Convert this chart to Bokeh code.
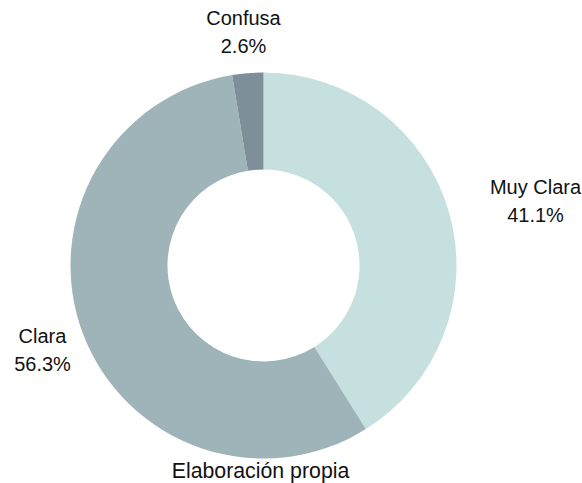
import math
from bokeh.plotting import figure
from bokeh.models import ColumnDataSource, Range1d
from bokeh.core.properties import value
from bokeh.embed import file_html
from bokeh.resources import INLINE

categories = ["Muy Clara", "Clara", "Confusa"]
shares = [41.1, 56.3, 2.6]
colors = ["#c6e0df", "#9fb4b9", "#7e8f9a"]
pct_labels = ["41.1%", "56.3%", "2.6%"]
caption = "Elaboración propia"

W, H = 582, 483
p = figure(width=W, height=H, output_backend="svg", toolbar_location=None,
           x_range=Range1d(0, W), y_range=Range1d(0, H), min_border=0)
p.axis.visible = False
p.grid.visible = False
p.outline_line_color = None
p.background_fill_color = "white"
p.border_fill_color = "white"

cx, cy = 263, H - 265
total = sum(shares)
starts, ends = [], []
acc = 0.0
for s in shares:
    a0 = math.pi / 2 - 2 * math.pi * acc / total
    acc += s
    a1 = math.pi / 2 - 2 * math.pi * acc / total
    starts.append(a1)
    ends.append(a0)

src = ColumnDataSource(dict(start=starts, end=ends, color=colors, cat=categories))
p.annular_wedge(x=cx, y=cy, inner_radius=96, outer_radius=193,
                start_angle="start", end_angle="end", fill_color="color",
                line_color=None, source=src)

lx = [535, 42, 243]
ly_top = [H - 186, H - 335, H - 17]
gap = 28
txt_x, txt_y, txt = [], [], []
for i in range(3):
    txt_x += [lx[i], lx[i]]
    txt_y += [ly_top[i], ly_top[i] - gap]
    txt += [categories[i], pct_labels[i]]

p.text(x=txt_x, y=txt_y, text=txt, text_align="center", text_baseline="middle",
       text_font=value("Liberation Sans"), text_font_size="20px", text_color="#111111")
p.text(x=[260], y=[H - 470], text=[caption], text_align="center", text_baseline="middle",
       text_font=value("Liberation Sans"), text_font_size="21.3px", text_color="#111111")

open("out.html", "w").write(file_html(p, INLINE))
